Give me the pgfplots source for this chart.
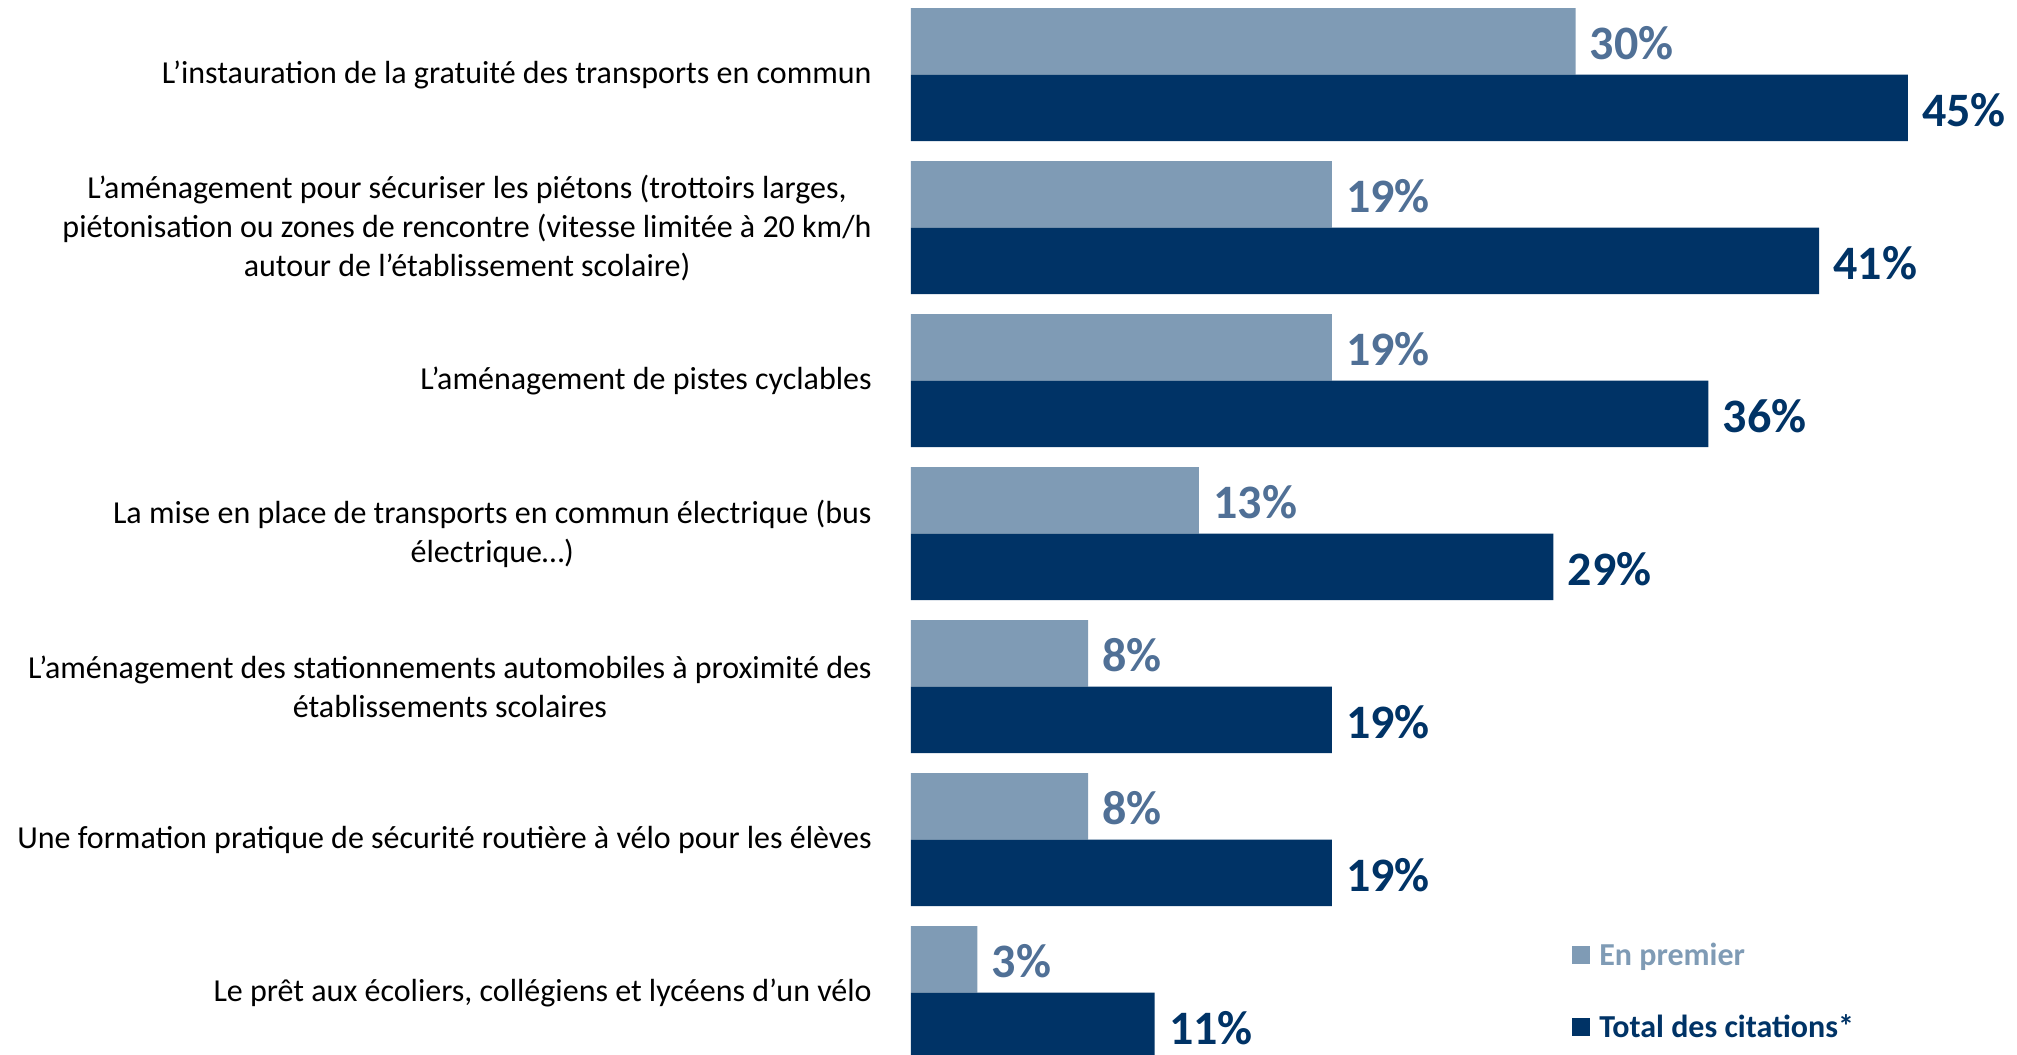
\documentclass[border=0pt]{standalone}
\usepackage{pgfplots}
\pgfplotsset{compat=1.18}
\usepackage{fontspec}
\setmainfont{Carlito}
\definecolor{lightbar}{HTML}{7F9BB5}
\definecolor{darkbar}{HTML}{003366}
\definecolor{lightlab}{HTML}{507096}
\begin{document}
\begin{tikzpicture}
\begin{axis}[name=ax,
  scale only axis, width=553pt, height=527pt,
  xbar, xmin=0, xmax=49.93, ymin=-0.4013, ymax=6.4876,
  bar width=33.25pt,
  axis line style={draw=none},
  xtick=\empty,
  ytick={0,1,2,3,4,5,6},
  yticklabels={
    {Le prêt aux écoliers, collégiens et lycéens d’un vélo},
    {Une formation pratique de sécurité routière à vélo pour les élèves},
    {L’aménagement des stationnements automobiles à proximité des\\établissements scolaires},
    {La mise en place de transports en commun électrique (bus\\électrique…)},
    {L’aménagement de pistes cyclables},
    {L’aménagement pour sécuriser les piétons (trottoirs larges,\\piétonisation ou zones de rencontre (vitesse limitée à 20 km/h\\autour de l’établissement scolaire)},
    {L’instauration de la gratuité des transports en commun}},
  major tick length=0pt,
  ytick style={draw=none},
  yticklabel style={align=center, font=\fontsize{16}{19.5}\selectfont, inner sep=0pt, xshift=-19.5pt},
  point meta=x,
  nodes near coords={\pgfmathprintnumber[assume math mode=true]{\pgfplotspointmeta}\%},
  every node near coord/.append style={font=\fontsize{24}{28}\selectfont\bfseries, anchor=west, inner sep=7pt, yshift=-1pt},
  legend style={draw=none, fill=none, at={(0.5976,0.1072)}, anchor=north west, inner sep=0pt,
    column sep=4.5pt, row sep=20pt,
    nodes={inner sep=0pt, text height=12pt, text depth=4pt},
    font=\fontsize{16}{19.5}\selectfont\bfseries},
  legend cell align=left,
  legend image code/.code={\fill[#1] (0pt,-3.5pt) rectangle (9pt,5.5pt);},
]
\addplot[fill=lightbar, draw=none, bar shift=16.625pt,
  every node near coord/.append style={text=lightlab}]
  coordinates {(3,0) (8,1) (8,2) (13,3) (19,4) (19,5) (30,6)};
\addplot[fill=darkbar, draw=none, bar shift=-16.625pt,
  every node near coord/.append style={text=darkbar}]
  coordinates {(11,0) (19,1) (19,2) (29,3) (36,4) (41,5) (45,6)};
\legend{\textcolor{lightbar}{En premier}, \textcolor{darkbar}{Total des citations*}}
\end{axis}
\pgfresetboundingbox
\path[use as bounding box] ([xshift=-455.5pt]ax.south west) rectangle (ax.north east);
\end{tikzpicture}
\end{document}
